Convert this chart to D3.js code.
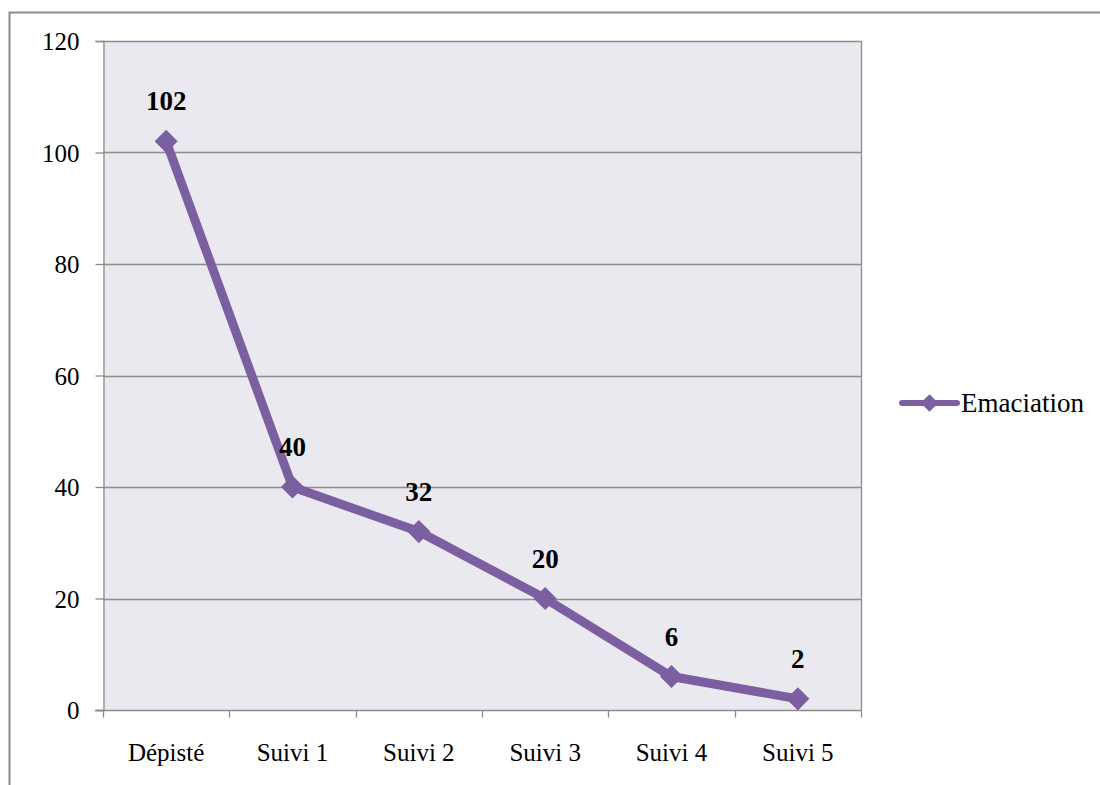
<!DOCTYPE html>
<html>
<head>
<meta charset="utf-8">
<script src="https://cdn.jsdelivr.net/npm/d3@7"></script>
<style>
  html, body { margin: 0; padding: 0; background: #fff; }
  svg { display: block; }
</style>
</head>
<body>
<svg id="chart" width="1100" height="785"></svg>
<script>
// Follow-up counts of emaciation cases
const categories = ["Dépisté", "Suivi 1", "Suivi 2", "Suivi 3", "Suivi 4", "Suivi 5"];
const values = [102, 40, 32, 20, 6, 2];
const seriesName = "Emaciation";
const yTicks = [0, 20, 40, 60, 80, 100, 120];

const svg = d3.select("#chart");
const font = "'Liberation Serif', 'Times New Roman', serif";
const purple = "#7b5fa0";
const gridColor = "#8c8c8c";

// Outer frame
svg.append("path")
  .attr("d", "M9.5,785 L9.5,12.5 L1100,12.5")
  .attr("fill", "none").attr("stroke", "#8a8a8a").attr("stroke-width", 2);

const plot = { left: 103, right: 861, top: 41, bottom: 710 };

const x = d3.scaleBand().domain(categories).range([plot.left, plot.right]);
const y = d3.scaleLinear().domain([0, 120]).range([plot.bottom, plot.top]);

// Plot background
svg.append("rect")
  .attr("x", plot.left).attr("y", plot.top)
  .attr("width", plot.right - plot.left).attr("height", plot.bottom - plot.top)
  .attr("fill", "#ebe9f0");

// Horizontal gridlines
svg.append("g").selectAll("line").data(yTicks.filter(d => d > 0)).join("line")
  .attr("x1", plot.left).attr("x2", plot.right)
  .attr("y1", d => Math.round(y(d)) + 0.5).attr("y2", d => Math.round(y(d)) + 0.5)
  .attr("stroke", gridColor).attr("stroke-width", 1.3);

// Right edge of the plot area
svg.append("line")
  .attr("x1", plot.right + 0.5).attr("x2", plot.right + 0.5)
  .attr("y1", plot.top).attr("y2", plot.bottom)
  .attr("stroke", gridColor).attr("stroke-width", 1.3);

// Y axis
const yAxis = svg.append("g")
  .attr("transform", `translate(${plot.left + 0.5},0)`)
  .call(d3.axisLeft(y).tickValues(yTicks).tickSize(8).tickPadding(16));
yAxis.select(".domain").attr("stroke", gridColor).attr("stroke-width", 1.3);
yAxis.selectAll(".tick line").attr("stroke", gridColor).attr("stroke-width", 1.3);
yAxis.selectAll(".tick text")
  .attr("font-family", font).attr("font-size", 25).attr("fill", "#000")
  .attr("dy", "0.34em");

// X axis with ticks on category boundaries
const xAxisG = svg.append("g").attr("transform", `translate(0,${plot.bottom + 0.5})`);
xAxisG.append("line")
  .attr("x1", plot.left - 8).attr("x2", plot.right + 1)
  .attr("stroke", gridColor).attr("stroke-width", 1.3);
const bounds = categories.map(c => x(c)).concat([plot.right]);
xAxisG.selectAll("line.tk").data(bounds).join("line").attr("class", "tk")
  .attr("x1", d => Math.round(d) + 0.5).attr("x2", d => Math.round(d) + 0.5)
  .attr("y1", 0).attr("y2", 7)
  .attr("stroke", gridColor).attr("stroke-width", 1.3);
xAxisG.selectAll("text").data(categories).join("text")
  .attr("x", d => x(d) + x.bandwidth() / 2)
  .attr("y", 50)
  .attr("text-anchor", "middle")
  .attr("font-family", font).attr("font-size", 25).attr("fill", "#000")
  .text(d => d);

// Series line
const cx = c => x(c) + x.bandwidth() / 2;
const pts = categories.map((c, i) => [cx(c), y(values[i])]);
svg.append("path")
  .attr("d", d3.line()(pts))
  .attr("fill", "none").attr("stroke", purple)
  .attr("stroke-width", 9).attr("stroke-linejoin", "round");

// Diamond markers
const diamond = d3.symbol().type(d3.symbolDiamond2).size(340);
svg.append("g").selectAll("path").data(pts).join("path")
  .attr("transform", d => `translate(${d[0]},${d[1]})`)
  .attr("d", diamond)
  .attr("fill", purple);

// Value labels
svg.append("g").selectAll("text").data(values).join("text")
  .attr("x", (d, i) => cx(categories[i]))
  .attr("y", d => y(d) - 31)
  .attr("text-anchor", "middle")
  .attr("font-family", font).attr("font-size", 27).attr("font-weight", "bold")
  .attr("fill", "#000")
  .text(d => d);

// Legend
const lg = svg.append("g").attr("transform", "translate(902,403)");
lg.append("line").attr("x1", 0).attr("x2", 55).attr("y1", 0).attr("y2", 0)
  .attr("stroke", purple).attr("stroke-width", 6).attr("stroke-linecap", "round");
lg.append("path").attr("transform", "translate(27.5,0)")
  .attr("d", d3.symbol().type(d3.symbolDiamond2).size(200)).attr("fill", purple);
lg.append("text").attr("x", 59).attr("y", 9)
  .attr("font-family", font).attr("font-size", 27).attr("fill", "#000")
  .text(seriesName);
</script>
</body>
</html>
